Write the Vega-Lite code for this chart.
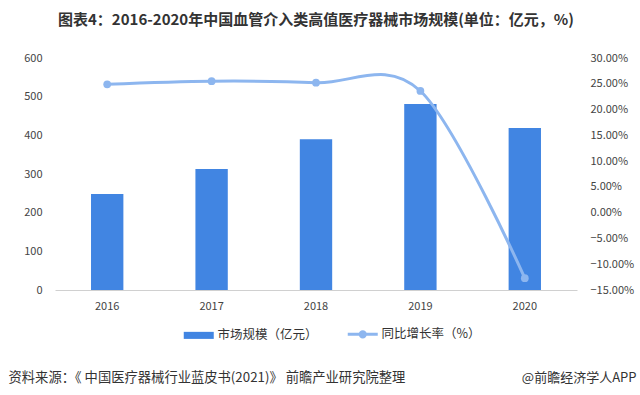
{
  "$schema": "https://vega.github.io/schema/vega-lite/v6.json",
  "width": 522,
  "height": 232,
  "autosize": "none",
  "padding": {"left": 55, "top": 58, "right": 63, "bottom": 105},
  "title": {
    "text": "图表4：2016-2020年中国血管介入类高值医疗器械市场规模(单位：亿元，%)",
    "fontSize": 15,
    "fontWeight": "bold",
    "color": "#333333",
    "anchor": "middle",
    "frame": "group",
    "offset": 24,
    "font": "Noto Sans CJK SC"
  },
  "data": {
    "values": [
      {"year": "2016", "size": 248, "growth": 0.249},
      {"year": "2017", "size": 313, "growth": 0.255},
      {"year": "2018", "size": 390, "growth": 0.252},
      {"year": "2019", "size": 481, "growth": 0.236},
      {"year": "2020", "size": 419, "growth": -0.127}
    ]
  },
  "encoding": {
    "x": {
      "field": "year",
      "type": "nominal",
      "scale": {"paddingInner": 0.69, "paddingOuter": 0.345},
      "axis": {
        "title": "资料来源：《 中国医疗器械行业蓝皮书(2021)》 前瞻产业研究院整理",
        "titleFont": "Noto Sans CJK SC",
        "titleFontSize": 13.3,
        "titleFontWeight": "normal",
        "titleColor": "#333333",
        "titleAnchor": "start",
        "titleAlign": "left",
        "titleBaseline": "middle",
        "titleX": -47,
        "titleY": 87,
        "labelAngle": 0,
        "labelPadding": 10,
        "labelFontSize": 11,
        "labelColor": "#444444",
        "ticks": false,
        "domainColor": "#d0d0d0",
        "grid": false
      }
    }
  },
  "layer": [
    {
      "mark": {"type": "bar", "color": "#4185e2"},
      "encoding": {
        "y": {
          "field": "size",
          "type": "quantitative",
          "scale": {"domain": [0, 600]},
          "axis": {
            "title": null,
            "values": [0, 100, 200, 300, 400, 500, 600],
            "labelFontSize": 11,
            "labelColor": "#444444",
            "labelPadding": 13,
            "ticks": false,
            "domain": false,
            "grid": false
          }
        },
        "color": {
          "datum": "市场规模（亿元）",
          "scale": {
            "domain": ["市场规模（亿元）", "同比增长率（%）"],
            "range": ["#4185e2", "#8db6ef"]
          },
          "legend": {
            "title": null,
            "orient": "none",
            "direction": "horizontal",
            "legendX": 130,
            "legendY": 270,
            "labelFontSize": 12.5,
            "labelColor": "#333333",
            "labelFont": "Noto Sans CJK SC",
            "symbolSize": 225,
            "columnPadding": 23,
            "labelOffset": 20,
            "encode": {
              "symbols": {
                "update": {
                  "shape": {"signal": "datum.value === '市场规模（亿元）' ? 'M-1,-0.47H3V0.47H-1Z' : 'M-1,0H3M1.35,0A0.35,0.35,0,1,1,0.65,0A0.35,0.35,0,1,1,1.35,0Z'"},
                  "fill": {"scale": "color", "field": "value"},
                  "stroke": {"scale": "color", "field": "value"},
                  "strokeWidth": {"signal": "datum.value === '市场规模（亿元）' ? 0 : 3"},
                  "opacity": {"value": 1}
                }
              }
            }
          }
        }
      }
    },
    {
      "mark": {
        "type": "line",
        "interpolate": "cardinal",
        "strokeWidth": 3,
        "point": {"filled": true, "size": 60}
      },
      "encoding": {
        "y": {
          "field": "growth",
          "type": "quantitative",
          "scale": {"domain": [-0.15, 0.3]},
          "axis": {
            "orient": "right",
            "format": ".2%",
            "values": [-0.15, -0.1, -0.05, 0, 0.05, 0.1, 0.15, 0.2, 0.25, 0.3],
            "labelFontSize": 11,
            "labelColor": "#444444",
            "labelPadding": 13,
            "ticks": false,
            "domain": false,
            "grid": false,
            "title": "@前瞻经济学人APP",
            "titleFont": "Noto Sans CJK SC",
            "titleFontSize": 13,
            "titleFontWeight": "normal",
            "titleColor": "#333333",
            "titleAngle": 0,
            "titleAlign": "right",
            "titleBaseline": "middle",
            "titleX": 59,
            "titleY": 319
          }
        },
        "color": {"datum": "同比增长率（%）"}
      }
    }
  ],
  "resolve": {"scale": {"y": "independent"}},
  "config": {
    "view": {"stroke": null},
    "font": "Noto Sans CJK SC",
    "axis": {"labelFont": "Noto Sans CJK SC"}
  }
}
